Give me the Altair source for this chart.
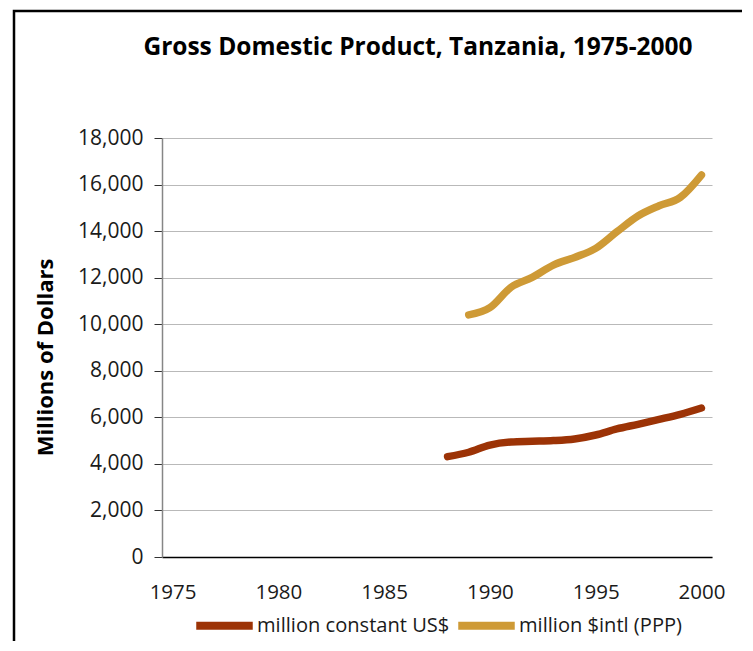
import altair as alt
import pandas as pd

# ---- data ----
years_const = [1988, 1989, 1990, 1991, 1992, 1993, 1994, 1995, 1996, 1997, 1998, 1999, 2000]
gdp_const = [4310, 4500, 4810, 4940, 4970, 5000, 5070, 5240, 5500, 5700, 5910, 6130, 6400]

years_ppp = [1989, 1990, 1991, 1992, 1993, 1994, 1995, 1996, 1997, 1998, 1999, 2000]
gdp_ppp = [10400, 10710, 11590, 12010, 12540, 12870, 13260, 13970, 14650, 15090, 15450, 16410]

series_names = ["million constant US$", "million $intl (PPP)"]
series_colors = ["#9C3306", "#CE9A36"]
x_ticks = [1975, 1980, 1985, 1990, 1995, 2000]
y_ticks = [0, 2000, 4000, 6000, 8000, 10000, 12000, 14000, 16000, 18000]

rows = [{"year": y, "value": v, "series": series_names[0]} for y, v in zip(years_const, gdp_const)]
rows += [{"year": y, "value": v, "series": series_names[1]} for y, v in zip(years_ppp, gdp_ppp)]
df = pd.DataFrame(rows)

FONT = "Open Sans"

lines = alt.Chart(df).mark_line(
    strokeWidth=7.5, strokeCap="round", strokeJoin="round", interpolate="monotone"
).encode(
    x=alt.X("year:Q",
            scale=alt.Scale(domain=[1974.5, 2000.5], nice=False, zero=False),
            axis=alt.Axis(values=x_ticks, format="d", title=None, grid=False, ticks=False,
                          domainColor="#000000", domainWidth=1.5, labelPadding=25,
                          labelFontSize=20.5, labelFont=FONT, labelColor="#1a1a1a",
                          labelFlush=False)),
    y=alt.Y("value:Q",
            scale=alt.Scale(domain=[0, 18000], nice=False),
            axis=alt.Axis(values=y_ticks, format=",.0f", title="Millions of Dollars",
                          titleFont=FONT, titleFontSize=22, titleFontWeight="bold",
                          titleColor="#000000", titleX=-117, titleY=219,
                          titleAlign="center", titleBaseline="middle", titleAngle=270,
                          grid=True, gridColor="#b9b9b9", gridWidth=1,
                          domainColor="#868686", domainWidth=1.5,
                          tickColor="#333333", tickSize=8, tickWidth=1,
                          labelPadding=11, labelFontSize=21, labelFont=FONT,
                          labelColor="#1a1a1a")),
    color=alt.Color("series:N",
                    scale=alt.Scale(domain=series_names, range=series_colors),
                    legend=alt.Legend(title=None, orient="none", legendX=30, legendY=455,
                                      direction="horizontal", symbolType="stroke",
                                      symbolStrokeWidth=8, symbolSize=3192,
                                      labelFont=FONT, labelFontSize=20.1, labelColor="#1a1a1a",
                                      labelLimit=400, labelOffset=0, columnPadding=-8)),
)

border = alt.Chart(alt.Data(values=[{"k": 1}])).mark_rect(
    filled=False, stroke="#000000", strokeWidth=2.5
).encode(
    x=alt.value(-148), x2=alt.value(700), y=alt.value(-127), y2=alt.value(700)
)

chart = alt.layer(border, lines).properties(
    width=550, height=419,
    autosize=alt.AutoSizeParams(type="none"),
    padding={"left": 154, "top": 130, "right": 30, "bottom": 84},
    title=alt.TitleParams("Gross Domestic Product, Tanzania, 1975-2000", font=FONT,
                          fontSize=24.5, fontWeight="bold", color="#000000",
                          anchor="middle", frame="group", dx=-19, offset=0, dy=51),
).configure_view(stroke=None)

chart.save("out.html", embed_options={"renderer": "svg", "actions": False})
